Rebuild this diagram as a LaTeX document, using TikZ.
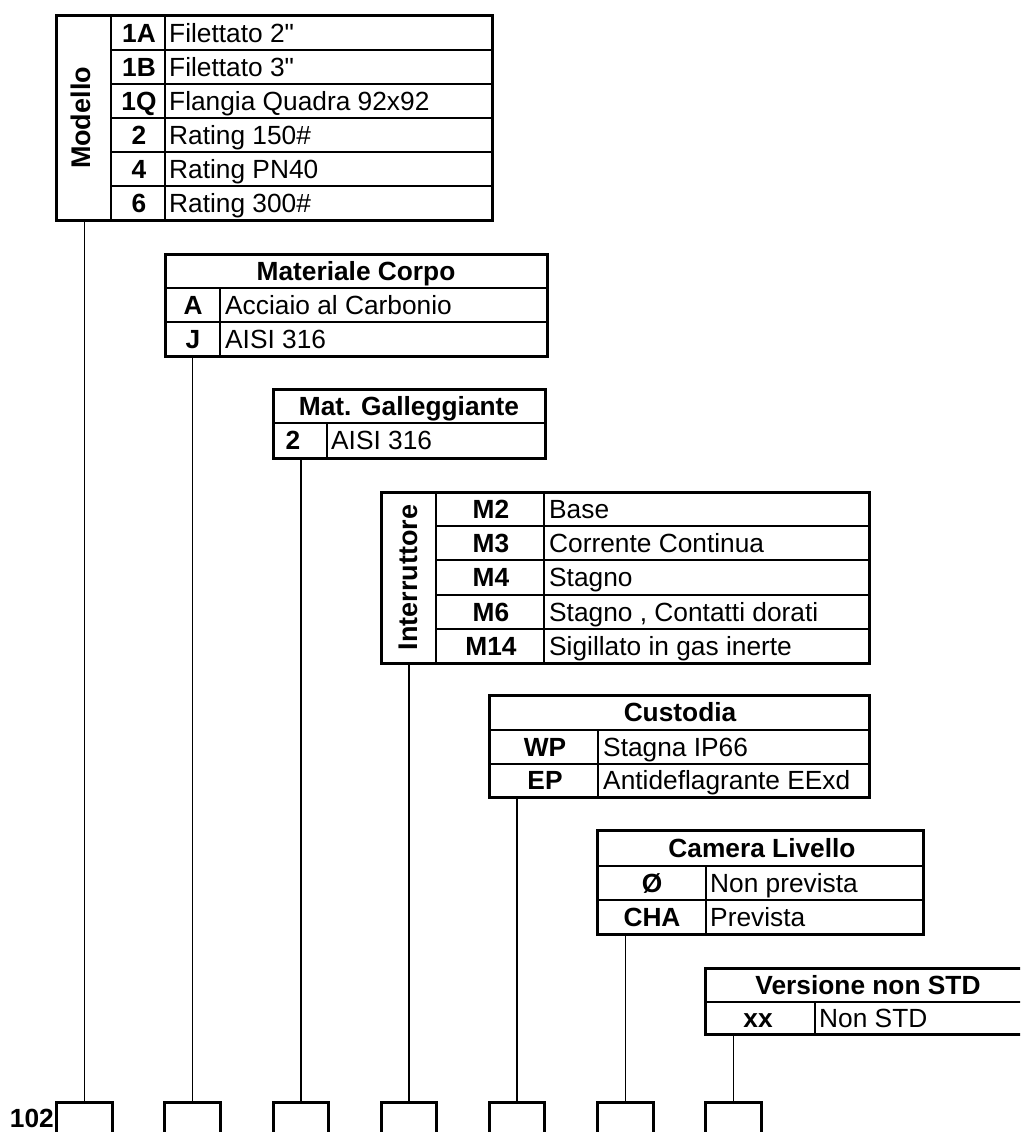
\documentclass[tikz,border=0pt]{standalone}
\usepackage{fontspec}
\setmainfont{Liberation Sans}[Ligatures=TeXOff]
\begin{document}
\begin{tikzpicture}[x=1pt,y=-1pt,
  frame/.style={line width=3pt},
  grid/.style={line width=1.2pt},
  conn/.style={line width=1.2pt},
  slotline/.style={line width=3pt},
  txt/.style={inner sep=0pt, text height=18.8pt, text depth=0pt, font=\fontsize{26.3}{30}\selectfont},
  code/.style={txt, font=\fontsize{26.3}{30}\selectfont\bfseries},
  desc/.style={txt, anchor=west},
  vlabel/.style={code, rotate=90, font=\fontsize{27}{30}\selectfont\bfseries},
  slot/.style={draw=none, inner sep=0pt, minimum width=55pt, minimum height=30pt}]
\clip (0,0) rectangle (1020,1132);

% ---------- connectors and slots ----------
\node[slot] (s1) at (84.5,1118) {};
\node[slot] (s2) at (192.5,1118) {};
\node[slot] (s3) at (301,1118) {};
\node[slot] (s4) at (409,1118) {};
\node[slot] (s5) at (517,1118) {};
\node[slot] (s6) at (625.5,1118) {};
\node[slot] (s7) at (733.5,1118) {};
\coordinate (b1) at (84.5,220);
\coordinate (b2) at (192.5,356);
\coordinate (b3) at (301,458);
\coordinate (b4) at (409,663);
\coordinate (b5) at (517,797);
\coordinate (b6) at (625.5,934);
\coordinate (b7) at (733.5,1034);
\foreach \i in {1,...,7}{
  \draw[conn] (b\i) -- (s\i.north);
  \draw[slotline] (s\i.south west) -- (s\i.north west) -- (s\i.north east) -- (s\i.south east);
}
\node[code, anchor=east] (prefix) at (54,1118) {102};

% ---------- Modello ----------
\draw[grid] (111,16) -- (111,220) (165,16) -- (165,220);
\foreach \y in {50,84,118,152,186} \draw[grid] (111,\y) -- (492,\y);
\draw[frame] (56,16) rectangle (492,220);
\node[vlabel] (modello) at (81,118) {Modello};
\foreach \c/\d/\y/\n in {1A/Filettato 2\char34/33/1, 1B/Filettato 3\char34/67/2, 1Q/Flangia Quadra 92x92/101/3, 2/Rating 150\#/135/4, 4/Rating PN40/169/5, 6/Rating 300\#/203/6}{
  \node[code] (mc\n) at (139,\y) {\c};
  \node[desc] (md\n) at (169,\y) {\d};
}

% ---------- Materiale Corpo ----------
\draw[grid] (165,288) -- (547,288) (165,322) -- (547,322) (220,288) -- (220,356);
\draw[frame] (165,254) rectangle (547,356);
\node[code] (mch) at (356,271) {Materiale Corpo};
\node[code] (mcA) at (193,305) {A};
\node[desc] (mcAd) at (225,305) {Acciaio al Carbonio};
\node[code] (mcJ) at (193,339) {J};
\node[desc] (mcJd) at (225,339) {AISI 316};

% ---------- Mat. Galleggiante ----------
\draw[grid] (273,423) -- (545,423) (327,423) -- (327,458);
\draw[frame] (273,389) rectangle (545,458);
\node[code] (mgh) at (409,406) {Mat. Galleggiante};
\node[code] (mg2) at (293,440.5) {2};
\node[desc] (mg2d) at (331,440.5) {AISI 316};

% ---------- Interruttore ----------
\draw[grid] (436,492) -- (436,663) (544,492) -- (544,663);
\foreach \y in {526,560,595,629} \draw[grid] (436,\y) -- (869,\y);
\draw[frame] (381,492) rectangle (869,663);
\node[vlabel] (intr) at (408,577.5) {Interruttore};
\foreach \c/\d/\y/\n in {M2/Base/509/1, M3/Corrente Continua/543/2, M4/Stagno/577.5/3, M6/{Stagno , Contatti dorati}/612/4, M14/Sigillato in gas inerte/646/5}{
  \node[code] (ic\n) at (491,\y) {\c};
  \node[desc] (id\n) at (549,\y) {\d};
}

% ---------- Custodia ----------
\draw[grid] (489,730) -- (869,730) (489,764) -- (869,764) (598,730) -- (598,797);
\draw[frame] (489,695) rectangle (869,797);
\node[code] (cuh) at (680,712.5) {Custodia};
\node[code] (cuW) at (545,747) {WP};
\node[desc] (cuWd) at (603,747) {Stagna IP66};
\node[code] (cuE) at (545,780.5) {EP};
\node[desc] (cuEd) at (603,780.5) {Antideflagrante EExd};

% ---------- Camera Livello ----------
\draw[grid] (597,866) -- (923,866) (597,900) -- (923,900) (706,866) -- (706,934);
\draw[frame] (597,830) rectangle (923,934);
\node[code] (cah) at (762,848) {Camera Livello};
\node[code] (ca0) at (652,883) {Ø};
\node[desc] (ca0d) at (710,883) {Non prevista};
\node[code] (caC) at (652,917) {CHA};
\node[desc] (caCd) at (710,917) {Prevista};

% ---------- Versione non STD ----------
\draw[grid] (705,1002) -- (1031,1002) (815,1002) -- (815,1034);
\draw[frame] (705,968) rectangle (1031,1034);
\node[code] (vsh) at (868,985) {Versione non STD};
\node[code] (vsx) at (758,1018) {xx};
\node[desc] (vsxd) at (819,1018) {Non STD};
\end{tikzpicture}
\end{document}
